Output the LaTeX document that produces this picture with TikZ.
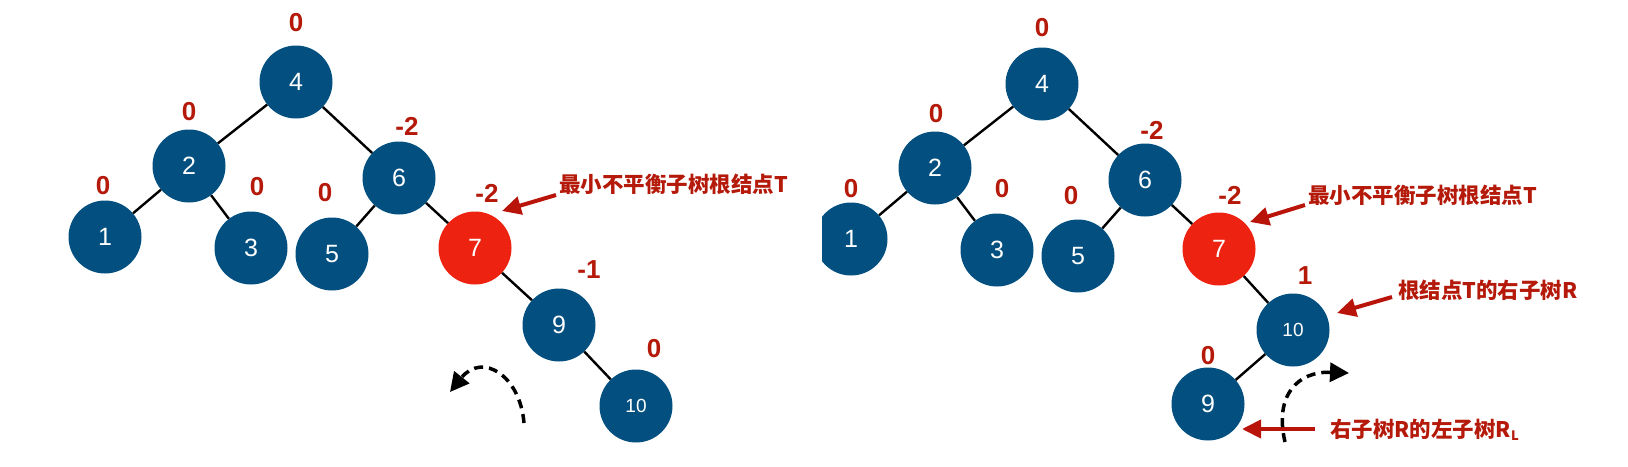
\documentclass[tikz,border=0pt]{standalone}
\usepackage{fontspec}
\setmainfont{Liberation Sans}
\newfontfamily\cjk{Noto Sans CJK SC}
\usetikzlibrary{arrows.meta}
\definecolor{nodeblue}{RGB}{3,80,128}
\definecolor{nodered}{RGB}{238,34,17}
\definecolor{lblred}{RGB}{180,25,10}
\definecolor{arrred}{RGB}{185,20,10}
\tikzset{
  tnode/.style={circle, minimum size=73pt, inner sep=0pt, fill=nodeblue, text=white, font=\fontsize{25}{25}\selectfont},
  rnode/.style={tnode, fill=nodered},
  smalltxt/.style={font=\fontsize{19}{19}\selectfont},
  balance/.style={text=lblred, font=\bfseries\fontsize{26}{26}\selectfont, inner sep=0pt},
  linkline/.style={line width=2.4pt, black},
  tnote/.style={text=lblred, font=\cjk\bfseries\fontsize{21.5}{21.5}\selectfont, inner sep=0pt, anchor=west},
  redarrow/.style={draw=arrred, line width=4pt, -{Triangle[length=19pt,width=18pt]}},
  rotarrow/.style={line width=3.5pt, dash pattern=on 9pt off 6pt, -{Triangle[length=19pt,width=19pt]}}
}
\begin{document}
\begin{tikzpicture}[x=1pt,y=-1pt]
\useasboundingbox (0,0) rectangle (1628,466);

% ---------- left tree ----------
\node[tnode] (L4) at (296,82) {4};
\node[tnode] (L2) at (189,166) {2};
\node[tnode] (L1) at (105,237) {1};
\node[tnode] (L3) at (251,248) {3};
\node[tnode] (L6) at (399,178) {6};
\node[tnode] (L5) at (332,254) {5};
\node[rnode] (L7) at (475,248) {7};
\node[tnode] (L9) at (559,325) {9};
\node[tnode,smalltxt] (L10) at (636,406) {10};
\draw[linkline] (L4) -- (L2);
\draw[linkline] (L4) -- (L6);
\draw[linkline] (L2) -- (L1);
\draw[linkline] (L2) -- (L3);
\draw[linkline] (L6) -- (L5);
\draw[linkline] (L6) -- (L7);
\draw[linkline] (L7) -- (L9);
\draw[linkline] (L9) -- (L10);

\node[balance] (lb4) at (296,23) {0};
\node[balance] (lb2) at (189,112) {0};
\node[balance] (lb1) at (103,186) {0};
\node[balance] (lb3) at (257,187) {0};
\node[balance] (lb5) at (325,193) {0};
\node[balance] (lb6) at (407,126) {-2};
\node[balance] (lb7) at (487,193) {-2};
\node[balance] (lb9) at (589,270) {-1};
\node[balance] (lb10) at (654,349) {0};

\node[tnote] (lt1) at (559,184) {最小不平衡子树根结点T};
\coordinate (la1s) at (556,195);
\coordinate (la1e) at (502,211);
\draw[redarrow] (la1s) -- (la1e);

\coordinate (lr1) at (524,423);
\coordinate (lr2) at (450,392);
\draw[rotarrow] (lr1) .. controls (520,375) and (482,352) .. (lr2);

% ---------- right tree ----------
\begin{scope}
\clip (822,0) rectangle (1628,466);
\node[tnode] (R4) at (1042,84) {4};
\node[tnode] (R2) at (935,168) {2};
\node[tnode] (R1) at (851,239) {1};
\node[tnode] (R3) at (997,250) {3};
\node[tnode] (R6) at (1145,180) {6};
\node[tnode] (R5) at (1078,256) {5};
\node[rnode] (R7) at (1219,249) {7};
\node[tnode,smalltxt] (R10) at (1293,330) {10};
\node[tnode] (R9) at (1208,404) {9};
\draw[linkline] (R4) -- (R2);
\draw[linkline] (R4) -- (R6);
\draw[linkline] (R2) -- (R1);
\draw[linkline] (R2) -- (R3);
\draw[linkline] (R6) -- (R5);
\draw[linkline] (R6) -- (R7);
\draw[linkline] (R7) -- (R10);
\draw[linkline] (R10) -- (R9);
\end{scope}

\node[balance] (rb4) at (1042,28) {0};
\node[balance] (rb2) at (936,114) {0};
\node[balance] (rb1) at (851,189) {0};
\node[balance] (rb3) at (1002,189) {0};
\node[balance] (rb5) at (1071,196) {0};
\node[balance] (rb6) at (1152,130) {-2};
\node[balance] (rb7) at (1230,195) {-2};
\node[balance] (rb10) at (1305,276) {1};
\node[balance] (rb9) at (1208,356) {0};

\node[tnote] (rt1) at (1308,195) {最小不平衡子树根结点T};
\coordinate (ra1s) at (1305,205);
\coordinate (ra1e) at (1250,222);
\draw[redarrow] (ra1s) -- (ra1e);

\node[tnote] (rt2) at (1398,290) {根结点T的右子树R};
\coordinate (ra2s) at (1392,297);
\coordinate (ra2e) at (1337,313);
\draw[redarrow] (ra2s) -- (ra2e);

\node[tnote] (rt3) at (1330,430) {右子树R的左子树R\raisebox{-0.25ex}{\fontsize{13}{13}\selectfont L}};
\coordinate (ra3s) at (1315,429);
\coordinate (ra3e) at (1242,429);
\draw[redarrow] (ra3s) -- (ra3e);

\coordinate (rr1) at (1285,442);
\coordinate (rr2) at (1349,373);
\draw[rotarrow] (rr1) .. controls (1274,395) and (1298,371) .. (rr2);
\end{tikzpicture}
\end{document}
